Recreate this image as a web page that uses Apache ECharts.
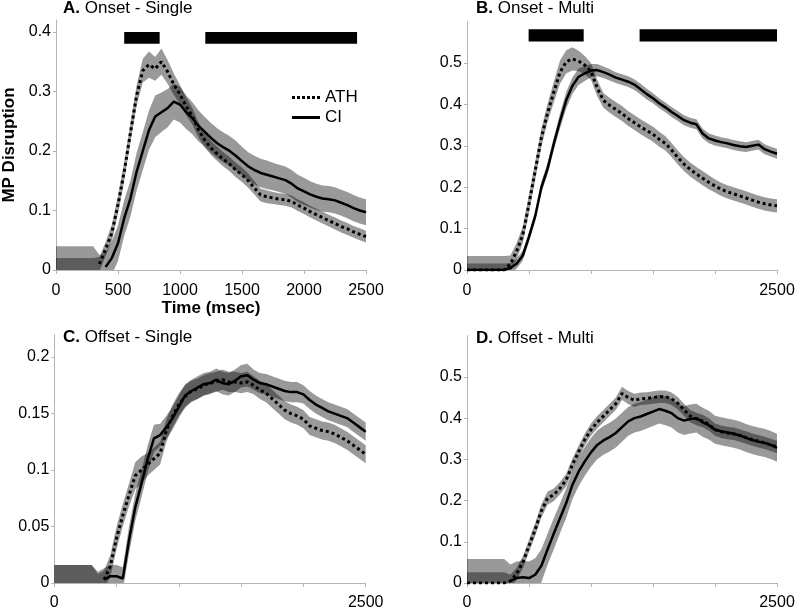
<!DOCTYPE html>
<html>
<head>
<meta charset="utf-8">
<script src="https://cdn.jsdelivr.net/npm/echarts@6/dist/echarts.min.js"></script>
<style>
html,body{margin:0;padding:0;background:#fff;}
#chart{width:800px;height:611px;}
</style>
</head>
<body>
<div id="chart"></div>
<script>
// time samples (msec)
const T = [0,50,100,150,200,250,300,350,400,450,
  500,550,600,650,700,750,800,850,900,950,
  1000,1050,1100,1150,1200,1250,1300,1350,1400,1450,
  1500,1550,1600,1650,1700,1750,1800,1850,1900,1950,
  2000,2050,2100,2150,2200,2250,2300,2350,2400,2450,
  2500];
const X_TICKS = [0,500,1000,1500,2000,2500];

// ---- A. Onset - Single ----
const A_ATH = [null,null,null,null,null,null,null,0.01,0.035,0.062,
  0.11,0.165,0.23,0.293,0.335,0.345,0.338,0.35,0.333,0.312,
  0.295,0.275,0.258,0.235,0.218,0.205,0.195,0.186,0.178,0.168,
  0.16,0.15,0.138,0.126,0.123,0.121,0.119,0.118,0.115,0.109,
  0.104,0.098,0.093,0.088,0.083,0.078,0.073,0.069,0.064,0.06,
  0.056];
const A_ATH_HW = [0.02,0.02,0.02,0.02,0.02,0.02,0.02,0.012,0.012,0.014,
  0.015,0.016,0.016,0.017,0.02,0.022,0.02,0.022,0.02,0.018,
  0.016,0.015,0.014,0.013,0.012,0.012,0.012,0.012,0.012,0.012,
  0.012,0.012,0.011,0.011,0.011,0.01,0.01,0.01,0.01,0.01,
  0.01,0.01,0.01,0.01,0.01,0.01,0.01,0.01,0.01,0.01,
  0.01];
const A_CI = [null,null,null,null,null,null,null,null,0.005,0.02,
  0.045,0.087,0.12,0.165,0.2,0.235,0.258,0.265,0.272,0.283,
  0.278,0.265,0.255,0.242,0.232,0.222,0.213,0.206,0.2,0.192,
  0.183,0.174,0.168,0.163,0.16,0.157,0.154,0.151,0.145,0.137,
  0.132,0.127,0.123,0.12,0.119,0.117,0.113,0.109,0.104,0.1,
  0.097];
const A_CI_HW = [0.04,0.04,0.04,0.04,0.04,0.04,0.04,0.025,0.025,0.028,
  0.03,0.03,0.03,0.032,0.032,0.033,0.035,0.033,0.032,0.03,
  0.03,0.028,0.027,0.026,0.025,0.025,0.025,0.025,0.025,0.025,
  0.024,0.024,0.024,0.024,0.024,0.023,0.023,0.023,0.023,0.023,
  0.023,0.022,0.022,0.022,0.022,0.022,0.022,0.022,0.022,0.022,
  0.022];
const A_SIG = [[550,836],[1204,2428]];
const A_SIG_Y = [0.38,0.4];

// ---- B. Onset - Multi ----
const B_ATH = [0,0,0,0,0,0,0,0.015,0.045,0.085,
  0.16,0.24,0.32,0.38,0.43,0.478,0.503,0.51,0.505,0.495,
  0.48,0.44,0.41,0.398,0.388,0.378,0.366,0.356,0.346,0.337,
  0.328,0.316,0.306,0.29,0.272,0.256,0.243,0.232,0.222,0.212,
  0.203,0.195,0.189,0.184,0.179,0.174,0.169,0.164,0.16,0.157,
  0.155];
const B_ATH_HW = [0.034,0.034,0.034,0.034,0.034,0.034,0.034,0.02,0.02,0.02,
  0.022,0.022,0.022,0.022,0.025,0.028,0.028,0.028,0.025,0.022,
  0.02,0.02,0.018,0.018,0.018,0.018,0.018,0.018,0.018,0.018,
  0.018,0.018,0.017,0.017,0.017,0.017,0.017,0.017,0.017,0.017,
  0.016,0.016,0.016,0.016,0.016,0.016,0.016,0.016,0.016,0.016,
  0.016];
const B_CI = [0,0,0,0,0,0,0,0.005,0.015,0.035,
  0.08,0.13,0.2,0.245,0.305,0.36,0.41,0.445,0.467,0.475,
  0.482,0.483,0.478,0.472,0.465,0.46,0.455,0.448,0.437,0.425,
  0.415,0.403,0.393,0.382,0.372,0.362,0.356,0.352,0.33,0.318,
  0.313,0.309,0.306,0.302,0.299,0.297,0.3,0.303,0.292,0.286,
  0.281];
const B_CI_HW = [0.016,0.016,0.016,0.016,0.016,0.016,0.016,0.012,0.012,0.012,
  0.012,0.012,0.013,0.014,0.015,0.018,0.02,0.02,0.02,0.018,
  0.016,0.015,0.014,0.014,0.013,0.013,0.013,0.013,0.013,0.013,
  0.012,0.012,0.012,0.012,0.012,0.012,0.012,0.012,0.012,0.012,
  0.012,0.012,0.012,0.012,0.012,0.012,0.012,0.012,0.012,0.012,
  0.012];
const B_SIG = [[497,941],[1392,2500]];
const B_SIG_Y = [0.552,0.582];

// ---- C. Offset - Single ----
const C_ATH = [null,null,null,null,null,null,null,null,0.003,0.015,
  0.04,0.06,0.078,0.095,0.1,0.105,0.11,0.115,0.135,0.148,
  0.158,0.165,0.17,0.172,0.175,0.177,0.178,0.18,0.178,0.178,
  0.177,0.178,0.175,0.171,0.168,0.163,0.158,0.153,0.15,0.148,
  0.145,0.139,0.137,0.135,0.134,0.132,0.129,0.126,0.122,0.118,
  0.114];
const C_ATH_HW = [0.016,0.016,0.016,0.016,0.016,0.016,0.016,0.008,0.008,0.01,
  0.01,0.01,0.01,0.012,0.012,0.01,0.01,0.01,0.01,0.01,
  0.01,0.01,0.009,0.009,0.009,0.009,0.009,0.009,0.009,0.009,
  0.009,0.009,0.008,0.008,0.008,0.008,0.008,0.008,0.008,0.008,
  0.008,0.008,0.008,0.008,0.008,0.008,0.008,0.008,0.008,0.008,
  0.008];
const C_CI = [null,null,null,null,null,null,null,null,0.003,0.006,
  0.006,0.004,0.038,0.067,0.088,0.11,0.128,0.131,0.138,0.146,
  0.156,0.166,0.17,0.173,0.176,0.177,0.18,0.177,0.176,0.179,
  0.183,0.184,0.18,0.177,0.176,0.174,0.172,0.17,0.169,0.169,
  0.167,0.162,0.158,0.155,0.152,0.15,0.148,0.146,0.142,0.138,
  0.134];
const C_CI_HW = [0.016,0.016,0.016,0.016,0.016,0.016,0.016,0.01,0.01,0.01,
  0.01,0.01,0.012,0.012,0.012,0.012,0.012,0.01,0.01,0.01,
  0.01,0.01,0.01,0.01,0.01,0.01,0.01,0.01,0.01,0.01,
  0.01,0.01,0.009,0.009,0.009,0.009,0.009,0.009,0.009,0.009,
  0.008,0.008,0.008,0.008,0.008,0.008,0.008,0.008,0.008,0.008,
  0.008];

// ---- D. Offset - Multi ----
const D_ATH = [0,0,0,0,0,0,0,0.005,0.022,0.05,
  0.09,0.13,0.175,0.206,0.214,0.23,0.25,0.287,0.318,0.348,
  0.372,0.39,0.405,0.42,0.435,0.46,0.45,0.443,0.447,0.448,
  0.45,0.452,0.452,0.447,0.436,0.42,0.405,0.398,0.393,0.385,
  0.372,0.367,0.364,0.362,0.358,0.353,0.348,0.344,0.34,0.335,
  0.33];
const D_ATH_HW = [0.026,0.026,0.026,0.026,0.026,0.026,0.026,0.015,0.015,0.015,
  0.015,0.016,0.016,0.016,0.015,0.015,0.015,0.015,0.015,0.015,
  0.015,0.015,0.015,0.015,0.015,0.016,0.016,0.016,0.015,0.015,
  0.015,0.015,0.015,0.015,0.015,0.015,0.015,0.015,0.015,0.015,
  0.015,0.015,0.015,0.015,0.015,0.015,0.015,0.015,0.015,0.015,
  0.015];
const D_CI = [null,null,null,null,null,null,null,0.005,0.012,0.014,
  0.012,0.02,0.042,0.082,0.12,0.157,0.194,0.238,0.27,0.295,
  0.317,0.335,0.346,0.354,0.364,0.378,0.392,0.4,0.404,0.41,
  0.416,0.422,0.418,0.412,0.4,0.394,0.398,0.4,0.39,0.383,
  0.372,0.368,0.365,0.362,0.358,0.352,0.347,0.343,0.34,0.335,
  0.328];
const D_CI_HW = [0.058,0.058,0.058,0.058,0.058,0.058,0.058,0.04,0.04,0.04,
  0.04,0.04,0.04,0.038,0.038,0.036,0.036,0.035,0.035,0.035,
  0.035,0.035,0.035,0.035,0.035,0.035,0.035,0.035,0.035,0.035,
  0.035,0.035,0.035,0.035,0.035,0.035,0.035,0.035,0.035,0.035,
  0.034,0.034,0.034,0.034,0.034,0.034,0.034,0.034,0.034,0.034,
  0.034];

const FONT = 'Liberation Sans, Arial, Helvetica, sans-serif';
const AXIS_GREY = '#b4b4b4';

const panels = [
  {title:'{b|A.} Onset - Single', tl:63, tt:0, grid:{left:54, top:20, width:312, height:250}, ymax:0.42, yint:0.1, xm:13,
   ath:A_ATH, athHw:A_ATH_HW, ci:A_CI, ciHw:A_CI_HW, sig:A_SIG, sigY:A_SIG_Y, allX:true, yName:'MP Disruption', xName:'Time (msec)'},
  {title:'{b|B.} Onset - Multi', tl:476, tt:0, grid:{left:467, top:21.7, width:310, height:248.3}, ymax:0.6, yint:0.1, xm:13,
   ath:B_ATH, athHw:B_ATH_HW, ci:B_CI, ciHw:B_CI_HW, sig:B_SIG, sigY:B_SIG_Y, allX:false},
  {title:'{b|C.} Offset - Single', tl:63, tt:329, grid:{left:54.3, top:334.5, width:311.4, height:251.2}, ymax:0.22, yint:0.05, xm:12,
   ath:C_ATH, athHw:C_ATH_HW, ci:C_CI, ciHw:C_CI_HW, sig:null, allX:false},
  {title:'{b|D.} Offset - Multi', tl:476, tt:330, grid:{left:467, top:335.7, width:310, height:250}, ymax:0.6, yint:0.1, xm:12,
   ath:D_ATH, athHw:D_ATH_HW, ci:D_CI, ciHw:D_CI_HW, sig:null, allX:false}
];

const grids = [], xAxes = [], yAxes = [], series = [], titles = [];

panels.forEach((p, gi) => {
  grids.push(Object.assign({containLabel:false}, p.grid));
  titles.push({text:p.title, left:p.tl, top:p.tt, padding:0,
    textStyle:{fontFamily:FONT, fontSize:17, fontWeight:'normal', color:'#000',
      rich:{b:{fontFamily:FONT, fontSize:17, fontWeight:'bold', color:'#000'}}}});
  xAxes.push({type:'value', gridIndex:gi, min:0, max:2500, interval:500,
    axisLine:{show:true, lineStyle:{color:AXIS_GREY, width:1}},
    axisTick:{show:true, length:4, lineStyle:{color:AXIS_GREY}},
    splitLine:{show:false},
    axisLabel:{fontFamily:FONT, fontSize:16, color:'#000', margin:p.xm,
      formatter: v => (p.allX || v === X_TICKS[0] || v === X_TICKS[X_TICKS.length-1]) ? String(v) : ''},
    name: p.xName || '', nameLocation:'middle', nameGap:30,
    nameTextStyle:{fontFamily:FONT, fontSize:17, fontWeight:'bold', color:'#000'}});
  yAxes.push({type:'value', gridIndex:gi, min:0, max:p.ymax, interval:p.yint,
    axisLine:{show:true, lineStyle:{color:AXIS_GREY, width:1}},
    axisTick:{show:true, length:3, lineStyle:{color:AXIS_GREY}},
    splitLine:{show:false},
    axisLabel:{fontFamily:FONT, fontSize:16, color:'#000', margin:5, showMaxLabel:false},
    name: p.yName || '', nameLocation:'middle', nameGap:38, nameRotate:90,
    nameTextStyle:{fontFamily:FONT, fontSize:17, fontWeight:'bold', color:'#000'}});

  // confidence band polygon, drawn through the axis scales
  const addBand = (mean, hw) => {
    const upper = T.map((t, i) => (mean[i] == null ? 0 : mean[i]) + hw[i]);
    const lower = T.map((t, i) => (mean[i] == null ? 0 : mean[i]) - hw[i]);
    series.push({type:'custom', xAxisIndex:gi, yAxisIndex:gi, silent:true, z:1, clip:true,
      data:[[0, 0]],
      renderItem: (params, api) => {
        const pts = [];
        for (let i = 0; i < T.length; i++) pts.push(api.coord([T[i], upper[i]]));
        for (let i = T.length - 1; i >= 0; i--) pts.push(api.coord([T[i], lower[i]]));
        return {type:'polygon', shape:{points:pts}, style:{fill:'rgba(0,0,0,0.4)'}};
      }});
  };
  addBand(p.ath, p.athHw);
  addBand(p.ci, p.ciHw);

  const athLine = {type:'line', name:'ATH', xAxisIndex:gi, yAxisIndex:gi,
    data:T.map((t, i) => [t, p.ath[i]]), symbol:'none', connectNulls:false,
    lineStyle:{color:'#000', width:3, type:[3,3], cap:'butt'}, itemStyle:{color:'#000'}, z:3, clip:true};
  if (p.sig) {
    athLine.markArea = {silent:true, itemStyle:{color:'#000', opacity:1},
      data:p.sig.map(r => [{coord:[r[0], p.sigY[0]]}, {coord:[r[1], p.sigY[1]]}])};
  }
  series.push(athLine);
  series.push({type:'line', name:'CI', xAxisIndex:gi, yAxisIndex:gi,
    data:T.map((t, i) => [t, p.ci[i]]), symbol:'none', connectNulls:false,
    lineStyle:{color:'#000', width:2.5}, itemStyle:{color:'#000'}, z:3, clip:true});
});

const chart = echarts.init(document.getElementById('chart'), null, {renderer:'canvas'});
chart.setOption({
  animation:false,
  backgroundColor:'#fff',
  title:titles,
  legend:{
    data:[
      {name:'ATH', icon:'path://M0,0h3v3h-3zM5,0h3v3h-3zM10,0h3v3h-3zM15,0h3v3h-3zM20,0h3v3h-3zM25,0h3v3h-3z'},
      {name:'CI', icon:'path://M0,0h28v3h-28z'}
    ],
    orient:'vertical', left:292, top:89, padding:0, itemWidth:28, itemHeight:3, itemGap:3,
    itemStyle:{color:'#000', borderWidth:0},
    textStyle:{fontFamily:FONT, fontSize:17, color:'#000'}, selectedMode:false},
  grid:grids, xAxis:xAxes, yAxis:yAxes, series:series
});
</script>
</body>
</html>
